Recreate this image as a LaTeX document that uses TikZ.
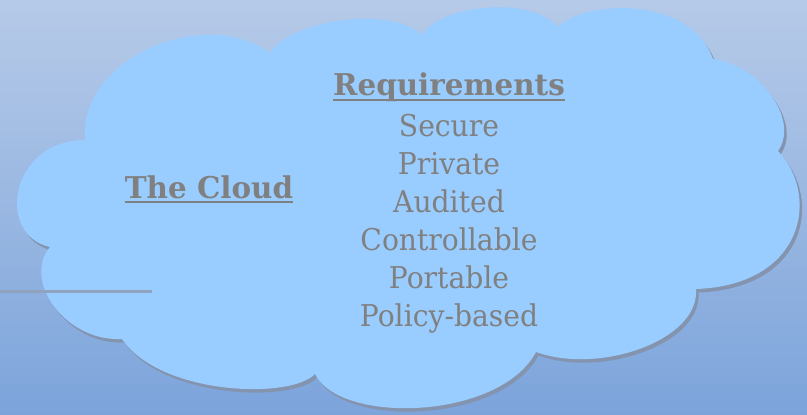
\documentclass[tikz,border=0pt]{standalone}
\usepackage{fontspec}
\newfontfamily\gfont[FakeStretch=0.94]{DejaVu Serif}
\newfontfamily\gbfont[FakeStretch=0.98]{DejaVu Serif}
\usetikzlibrary{calc}
\definecolor{bgtop}{HTML}{B6CAE8}
\definecolor{bgbot}{HTML}{7CA4DB}
\definecolor{cloudfill}{HTML}{99CCFF}
\definecolor{cloudshadow}{HTML}{8494AE}
\definecolor{txtgray}{HTML}{808080}
\definecolor{linegray}{HTML}{8FA3BE}
\tikzset{
  lbl/.style={inner sep=0pt, anchor=base, text=txtgray, font=\gfont\fontsize{30}{36}\selectfont},
  head/.style={lbl, font=\gbfont\bfseries\fontsize{30}{36}\selectfont},
  uline/.style={draw=txtgray, line width=2pt},
}
\begin{document}
\begin{tikzpicture}[x=1pt,y=-1pt]
\useasboundingbox (0,0) rectangle (807,415);
\shade[top color=bgtop, bottom color=bgbot] (0,0) rectangle (807,415);
\def\cloudpath{(85,140) .. controls (78,58) and (205,5) .. (270,53)
  .. controls (290,20) and (390,5) .. (422,35)
  .. controls (440,5) and (530,-5) .. (558,27)
  .. controls (585,0) and (690,-5) .. (713,59)
  .. controls (760,65) and (800,120) .. (778,151)
  .. controls (820,195) and (805,285) .. (696,289)
  .. controls (700,340) and (600,375) .. (536,352)
  .. controls (500,420) and (340,425) .. (315,374)
  .. controls (290,400) and (160,395) .. (122,339)
  .. controls (65,342) and (22,280) .. (50,247)
  .. controls (-5,235) and (10,140) .. (85,140) -- cycle}
\fill[cloudshadow, shift={(2.5,3.5)}] \cloudpath;
\fill[cloudfill] \cloudpath;
\coordinate (lineL) at (0,291);
\coordinate (lineR) at (152,291);
\draw[linegray, line width=3pt] (lineL) -- (lineR);
\node[head] (cloud) at (209,198) {The Cloud};
\draw[uline] ($(cloud.base west)+(0,4)$) -- ($(cloud.base east)+(0,4)$);
\node[head] (req) at (449,95) {Requirements};
\draw[uline] ($(req.base west)+(0,5)$) -- ($(req.base east)+(0,5)$);
\node[lbl] (r1) at (449,136) {Secure};
\node[lbl] (r2) at (449,174) {Private};
\node[lbl] (r3) at (449,212) {Audited};
\node[lbl] (r4) at (449,250) {Controllable};
\node[lbl] (r5) at (449,288) {Portable};
\node[lbl] (r6) at (449,326) {Policy-based};
\end{tikzpicture}
\end{document}
